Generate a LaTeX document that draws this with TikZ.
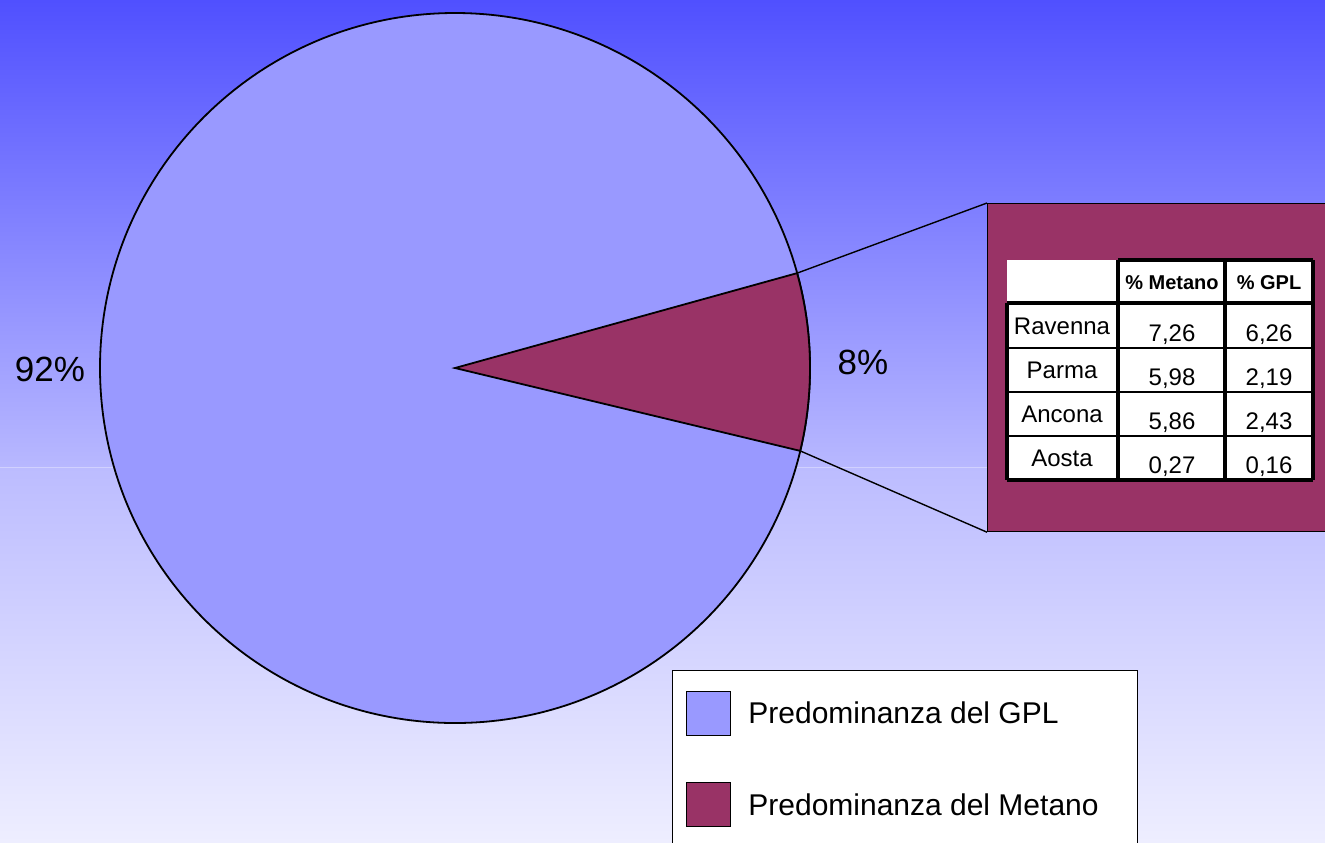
\documentclass[tikz,border=0pt]{standalone}
\usepackage{fontspec}
\setmainfont{Liberation Sans}
\usepackage{xcolor}
\usepackage{tikz}

\definecolor{gplblue}{HTML}{9999FF}
\definecolor{metanored}{HTML}{993366}
\definecolor{bgtop}{HTML}{5050FF}
\definecolor{bgmid}{HTML}{B8B8FF}
\definecolor{bgmidlow}{HTML}{BCBCFF}
\definecolor{bgbottom}{HTML}{EEEEFF}

\tikzset{
  pctlabel/.style={font=\fontsize{17.5}{20}\selectfont},
  legendtext/.style={font=\fontsize{15}{18}\selectfont, anchor=west},
  legendkey/.style={draw, line width=0.8pt, minimum size=22pt},
  cellname/.style={font=\fontsize{12}{14}\selectfont},
  cellnum/.style={font=\fontsize{12}{14}\selectfont},
  cellhead/.style={font=\bfseries\fontsize{10}{12}\selectfont},
  tabline/.style={line width=1.6pt},
  tabthin/.style={line width=1pt}
}

\begin{document}
\begin{tikzpicture}[x=0.5pt,y=-0.5pt, every node/.style={inner sep=0pt}]
			\useasboundingbox (0,0) rectangle (1325,842);
			% background
			\shade[top color=bgtop, bottom color=bgmid] (0,0) rectangle (1325,467);
			\shade[top color=bgmidlow, bottom color=bgbottom] (0,467) rectangle (1325,842);
			\draw[white!35!bgmid, line width=0.5pt] (0,467) -- (1325,467);

			% pie
			\coordinate (pc) at (455,368);
			\filldraw[fill=gplblue, line width=0.9pt] (pc) circle[radius=355];
			\filldraw[fill=metanored, line width=0.9pt] (pc) -- ++(-15.5:355) arc[start angle=-15.5, end angle=13.5, radius=355] -- cycle;
			\path (pc) ++(-15.5:355) coordinate (sliceTop);
			\path (pc) ++(13.5:355) coordinate (sliceBot);
			\node[pctlabel] (gplpct) at (50,369) {92\%};
			\node[pctlabel] (metpct) at (863,362) {8\%};

			% zoom box
			\node[draw, line width=0.6pt, fill=metanored, minimum width=172pt, minimum height=164pt, anchor=north west] (zoomBox) at (987,203) {};
			\draw[line width=0.7pt] (sliceTop) -- (zoomBox.north west);
			\draw[line width=0.7pt] (sliceBot) -- (zoomBox.south west);

			% table
			\fill[white] (1007,260) rectangle (1313,481);
			\draw[tabline] (1118,260) -- (1313,260);
			\draw[line width=2pt] (1007,303) -- (1313,303);
			\draw[tabthin] (1007,348) -- (1313,348);
			\draw[tabthin] (1007,392) -- (1313,392);
			\draw[tabthin] (1007,436) -- (1313,436);
			\draw[tabline] (1007,480) -- (1313,480);
			\draw[tabline] (1007,303) -- (1007,480);
			\draw[tabline] (1118,260) -- (1118,480);
			\draw[tabline] (1225,260) -- (1225,480);
			\draw[tabline] (1313,260) -- (1313,480);
			\node[cellhead] (hMet) at (1172,283) {\% Metano};
			\node[cellhead] (hGpl) at (1269,283) {\% GPL};
			\node[cellname] (nRav) at (1062,326) {Ravenna};
			\node[cellnum] (mRav) at (1172,335) {7,26};
			\node[cellnum] (gRav) at (1269,335) {6,26};
			\node[cellname] (nPar) at (1062,370) {Parma};
			\node[cellnum] (mPar) at (1172,379) {5,98};
			\node[cellnum] (gPar) at (1269,379) {2,19};
			\node[cellname] (nAnc) at (1062,414) {Ancona};
			\node[cellnum] (mAnc) at (1172,423) {5,86};
			\node[cellnum] (gAnc) at (1269,423) {2,43};
			\node[cellname] (nAos) at (1062,458) {Aosta};
			\node[cellnum] (mAos) at (1172,467) {0,27};
			\node[cellnum] (gAos) at (1269,467) {0,16};

			% legend
			\node[draw, line width=0.6pt, fill=white, minimum width=232.5pt, minimum height=90pt, anchor=north west] (legend) at (672,670) {};
			\node[legendkey, fill=gplblue] (keyGpl) at (708.5,713.5) {};
			\node[legendtext] (txtGpl) at (748,713) {Predominanza del GPL};
			\node[legendkey, fill=metanored] (keyMet) at (708.5,804.5) {};
			\node[legendtext] (txtMet) at (748,805) {Predominanza del Metano};
		\end{tikzpicture}
\end{document}
